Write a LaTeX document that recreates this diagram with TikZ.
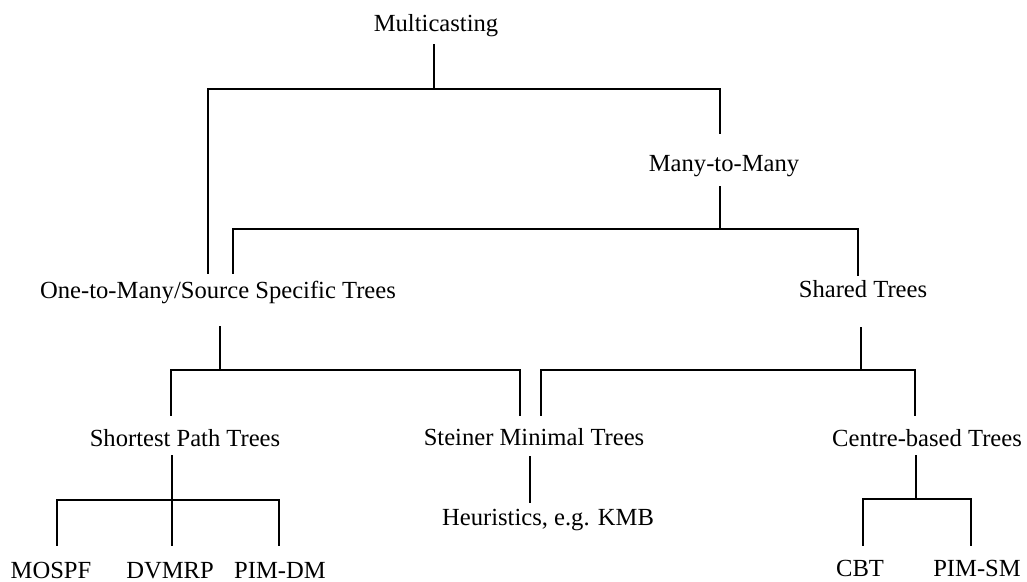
\documentclass[tikz,border=0pt]{standalone}
\usepackage{fontspec}
\setmainfont{Liberation Serif}
\usepackage{tikz}
\usetikzlibrary{calc}

\begin{document}
\begin{tikzpicture}[
    x=0.5pt, y=-0.5pt,
    term/.style={
        inner sep=0pt, anchor=base,
        font=\fontsize{12.3pt}{14pt}\selectfont
    },
    link/.style={line width=1pt, line cap=rect},
]
\useasboundingbox (0,0) rectangle (1027,582);

% Root and first split
\node[term] (mc)     at (436,32)  {Multicasting};
\node[term] (m2m)    at (724,172) {Many-to-Many};

% Second level
\node[term] (o2m)    at (218,299) {One-to-Many/Source Specific Trees};
\node[term] (shared) at (863,298) {Shared Trees};

% Tree types
\node[term] (spt)    at (185,446) {Shortest Path Trees};
\node[term] (smt)    at (534,445) {Steiner Minimal Trees};
\node[term] (cbt)    at (927,446) {Centre-based Trees};

% Protocols / algorithms
\node[term] (heur)   at (548,525) {Heuristics, e.g. KMB};
\node[term] (mospf)  at (51,578)  {MOSPF};
\node[term] (dvmrp)  at (170,578) {DVMRP};
\node[term] (pimdm)  at (280,578) {PIM-DM};
\node[term] (cbtl)   at (860,576) {CBT};
\node[term] (pimsm)  at (977,576) {PIM-SM};

% Junctions on the horizontal bars
\coordinate (mc-j)     at (434,89);
\coordinate (m2m-j)    at (720,229);
\coordinate (o2m-j)    at (220,370);
\coordinate (shared-j) at (861,370);
\coordinate (spt-j)    at (172,500);
\coordinate (cbt-j)    at (916,499);

% Multicasting
\draw[link] ($(mc.base)+(-2,13)$) -- (mc-j);
\draw[link] ($(o2m.base)+(-10,-26)$) |- (mc-j) -| ($(m2m.base)+(-4,-39)$);

% Many-to-Many
\draw[link] ($(m2m.base)+(-4,15)$) -- (m2m-j);
\draw[link] ($(o2m.base)+(15,-26)$) |- (m2m-j) -| ($(shared.base)+(-5,-23)$);

% One-to-Many
\draw[link] ($(o2m.base)+(2,28)$) -- (o2m-j);
\draw[link] ($(spt.base)+(-14,-31)$) |- (o2m-j) -| ($(smt.base)+(-14,-30)$);

% Shared Trees
\draw[link] ($(shared.base)+(-2,30)$) -- (shared-j);
\draw[link] ($(smt.base)+(7,-30)$) |- (shared-j) -| ($(cbt.base)+(-12,-31)$);

% Shortest Path Trees
\draw[link] ($(spt.base)+(-13,10)$) -- (spt-j);
\draw[link] ($(mospf.base)+(6,-33)$) |- (spt-j) -| ($(pimdm.base)+(-1,-33)$);
\draw[link] (spt-j) -- ($(dvmrp.base)+(2,-33)$);

% Steiner Minimal Trees
\draw[link] ($(smt.base)+(-4,12)$) -- ($(heur.base)+(-18,-23)$);

% Centre-based Trees
\draw[link] ($(cbt.base)+(-11,10)$) -- (cbt-j);
\draw[link] ($(cbtl.base)+(3,-31)$) |- (cbt-j) -| ($(pimsm.base)+(-6,-31)$);

\end{tikzpicture}
\end{document}
